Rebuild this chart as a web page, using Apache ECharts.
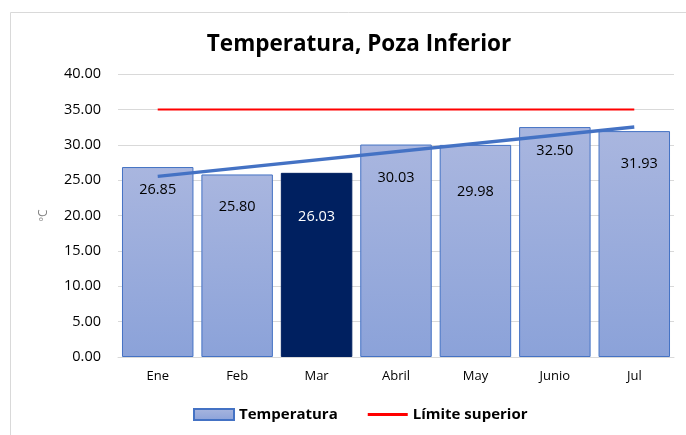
<!DOCTYPE html>
<html lang="es">
<head>
<meta charset="UTF-8">
<title>Temperatura, Poza Inferior</title>
<script src="https://cdn.jsdelivr.net/npm/echarts@6/dist/echarts.min.js"></script>
<style>
  html, body { margin: 0; padding: 0; background: #fff; }
  #chart { width: 686px; height: 435px; }
</style>
</head>
<body>
<div id="chart"></div>
<script>
// datos
var meses = ['Ene', 'Feb', 'Mar', 'Abril', 'May', 'Junio', 'Jul'];
var temperatura = [26.85, 25.80, 26.03, 30.03, 29.98, 32.50, 31.93];
var limiteSuperior = [35, 35, 35, 35, 35, 35, 35];
// tendencia lineal: solo extremos
var tendencia = [25.53, null, null, null, null, null, 32.51];
var mesDestacado = 'Mar';

// desplazamiento de etiquetas (estilo)
var labelOffsets = [[0, 10], [0, 20], [0, 32], [0, 21], [0, 34], [0, 11], [5, 20]];

var fuente = '"Open Sans", "Noto Sans", sans-serif';

var barGradient = new echarts.graphic.LinearGradient(0, 0, 0, 1, [
  { offset: 0, color: '#A9B6DF' },
  { offset: 1, color: '#8BA2D9' }
]);

var barData = temperatura.map(function (v, i) {
  var item = { value: v, label: { offset: labelOffsets[i] } };
  if (meses[i] === mesDestacado) {
    item.itemStyle = { color: '#002060', borderColor: '#002060' };
    item.label.color = '#FFFFFF';
  }
  return item;
});

var myChart = echarts.init(document.getElementById('chart'));
myChart.setOption({
  animation: false,
  textStyle: { fontFamily: fuente },
  graphic: [{
    type: 'rect',
    shape: { x: 10.5, y: 12.5, width: 700, height: 440 },
    style: { fill: 'none', stroke: '#D9D9D9', lineWidth: 1 },
    silent: true
  }],
  title: {
    text: 'Temperatura, Poza Inferior',
    left: 354,
    textAlign: 'center',
    top: 28,
    textStyle: { fontFamily: fuente, fontSize: 22.5, fontWeight: 'bold', color: '#000' }
  },
  legend: {
    top: 402,
    left: 188,
    itemWidth: 40,
    itemHeight: 11,
    itemGap: 30,
    textStyle: { fontFamily: fuente, fontSize: 15, fontWeight: 'bold', color: '#000' },
    data: [
      { name: 'Temperatura', icon: 'rect' },
      { name: 'Límite superior', icon: 'path://M0,0 L40,0 L40,3 L0,3 Z' }
    ]
  },
  grid: { left: 118, right: 12, top: 74, bottom: 78 },
  xAxis: {
    type: 'category',
    data: meses,
    axisLine: { lineStyle: { color: '#D9D9D9', width: 1 } },
    axisTick: { show: false },
    axisLabel: { color: '#000', fontSize: 13, margin: 13, fontFamily: fuente }
  },
  yAxis: {
    type: 'value',
    min: 0,
    max: 40,
    interval: 5,
    name: 'ºC',
    nameLocation: 'middle',
    nameGap: 68,
    nameTextStyle: { color: '#7F7F7F', fontSize: 12, fontFamily: fuente },
    axisLine: { show: false },
    axisTick: { show: false },
    splitLine: { lineStyle: { color: '#D9D9D9' } },
    axisLabel: {
      color: '#000',
      fontSize: 14.5,
      margin: 17,
      fontFamily: fuente,
      formatter: function (v) { return v.toFixed(2); }
    }
  },
  series: [{
    name: 'Temperatura',
    type: 'bar',
    barCategoryGap: '10%',
    data: barData,
    itemStyle: { color: barGradient, borderColor: '#4472C4', borderWidth: 1 },
    label: {
      show: true,
      position: 'insideTop',
      color: '#000',
      fontSize: 14.5,
      fontFamily: fuente,
      formatter: function (p) { return p.value.toFixed(2); }
    },
    z: 2
  }, {
    name: 'Límite superior',
    type: 'line',
    data: limiteSuperior,
    symbol: 'none',
    color: '#FF0000',
    lineStyle: { color: '#FF0000', width: 2 },
    z: 3
  }, {
    name: 'Tendencia',
    type: 'line',
    data: tendencia,
    connectNulls: true,
    symbol: 'none',
    lineStyle: { color: '#4472C4', width: 3.5 },
    z: 4
  }]
});
</script>
</body>
</html>
